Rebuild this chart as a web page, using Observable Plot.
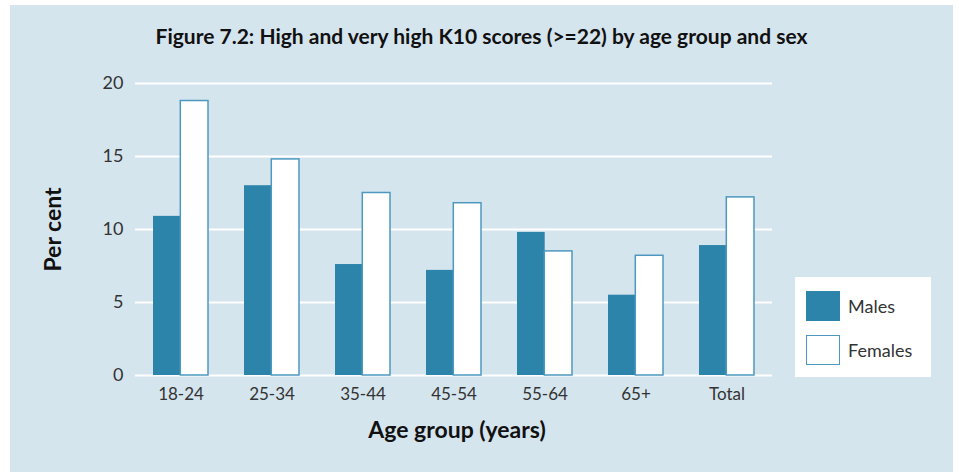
<!DOCTYPE html>
<html>
<head>
<meta charset="utf-8">
<script src="https://cdn.jsdelivr.net/npm/d3@7"></script>
<script src="https://cdn.jsdelivr.net/npm/@observablehq/plot@0.6"></script>
<style>
  html, body { margin: 0; padding: 0; background: #ffffff; }
  #page { position: relative; width: 959px; height: 472px; overflow: hidden; font-family: Lato, "Open Sans", sans-serif; }
  #panel { position: absolute; left: 10px; top: 5px; width: 943px; height: 467px; background: #d5e5ee; }
  #title { position: absolute; left: 10px; width: 943px; top: 24px; text-align: center; font-weight: bold; font-size: 21px; line-height: 24px; color: #111; }
  #chart { position: absolute; left: 0; top: 60px; }
  #legend { position: absolute; left: 795px; top: 277px; width: 136px; height: 100px; background: #ffffff; }
  .item { position: absolute; left: 11px; display: flex; align-items: center; font-size: 18px; color: #333; }
  .sw { width: 34px; height: 30px; box-sizing: border-box; margin-right: 8px; }
</style>
</head>
<body>
<div id="page">
  <div id="panel"></div>
  <div id="title">Figure 7.2: High and very high K10 scores (&gt;=22) by age group and sex</div>
  <div id="chart"></div>
  <div id="legend"></div>
</div>
<script>
const ageGroups = ["18-24", "25-34", "35-44", "45-54", "55-64", "65+", "Total"];
const males = [10.9, 13.0, 7.6, 7.2, 9.8, 5.5, 8.9];
const females = [18.8, 14.8, 12.5, 11.8, 8.5, 8.2, 12.2];
const seriesNames = ["Males", "Females"];
const yTicks = [0, 5, 10, 15, 20];
const yLabel = "Per cent";
const xLabel = "Age group (years)";

const maleColor = "#2d84ab";
const femaleStroke = "#4d98bf";

const rows = [];
ageGroups.forEach((g, i) => {
  rows.push({age: g, sex: seriesNames[0], value: males[i]});
  rows.push({age: g, sex: seriesNames[1], value: females[i]});
});

const half = 27.3;

const plot = Plot.plot({
  width: 959,
  height: 400,
  marginLeft: 135,
  marginRight: 187,
  marginTop: 23,
  marginBottom: 85,
  style: {background: "transparent", fontFamily: "Lato, sans-serif", color: "#333"},
  x: {domain: ageGroups, paddingInner: 0.4, paddingOuter: 0.2, axis: null},
  y: {domain: [0, 20], axis: null},
  marks: [
    Plot.ruleY(yTicks, {stroke: "#ffffff", strokeWidth: 2}),
    Plot.barY(rows.filter(d => d.sex === seriesNames[0]), {x: "age", y: "value", fill: maleColor, insetRight: half}),
    Plot.barY(rows.filter(d => d.sex === seriesNames[1]), {x: "age", y: "value", fill: "#ffffff", stroke: femaleStroke, strokeWidth: 1.5, insetLeft: half}),
    Plot.axisY({ticks: yTicks, tickSize: 0, tickPadding: 12, fontSize: 18, label: null, fill: "#333"}),
    Plot.axisX({tickSize: 0, tickPadding: 12, fontSize: 17, label: null, fill: "#333"}),
    Plot.text([yLabel], {text: d => d, frameAnchor: "left", textAnchor: "middle", rotate: -90, dx: -82, fontWeight: "bold", fontSize: 23, fill: "#111"}),
    Plot.text([xLabel], {text: d => d, frameAnchor: "bottom", textAnchor: "middle", dy: 62, dx: 3, fontWeight: "bold", fontSize: 23, fill: "#111"})
  ]
});
document.getElementById("chart").appendChild(plot);

const legend = document.getElementById("legend");
seriesNames.forEach((name, i) => {
  const item = document.createElement("div");
  item.className = "item";
  item.style.top = (14 + i * 44) + "px";
  const sw = document.createElement("div");
  sw.className = "sw";
  if (i === 0) { sw.style.background = maleColor; }
  else { sw.style.background = "#ffffff"; sw.style.border = "1.5px solid " + femaleStroke; }
  const label = document.createElement("span");
  label.textContent = name;
  item.appendChild(sw);
  item.appendChild(label);
  legend.appendChild(item);
});
</script>
</body>
</html>
